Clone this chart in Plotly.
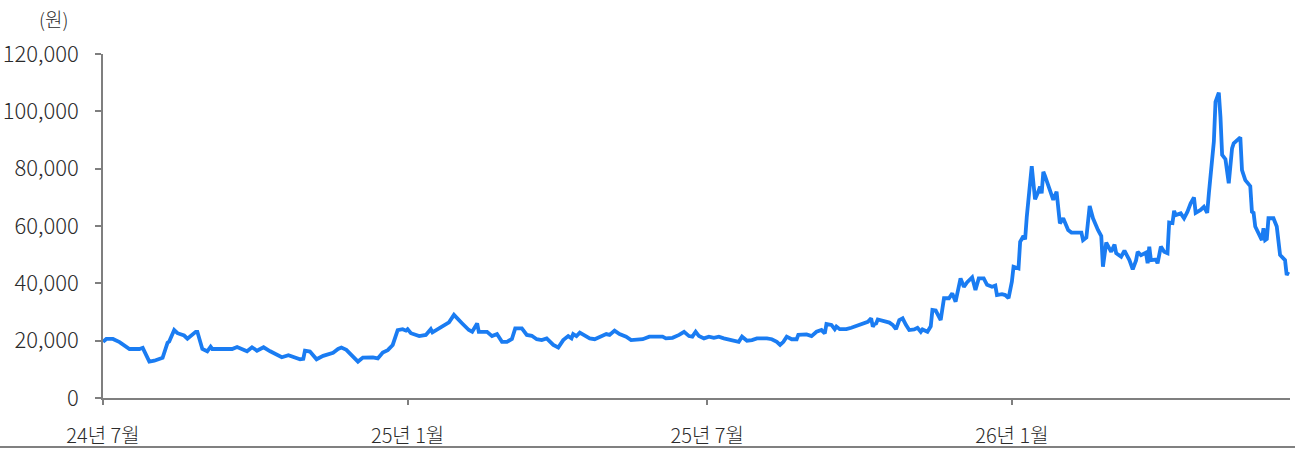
import plotly.graph_objects as go

dates = [
    "2024-07-01","2024-07-03","2024-07-07","2024-07-11","2024-07-17","2024-07-23","2024-07-25","2024-07-29",
    "2024-08-01","2024-08-06","2024-08-09","2024-08-10","2024-08-13","2024-08-15","2024-08-19","2024-08-21",
    "2024-08-26","2024-08-27","2024-08-30","2024-09-02","2024-09-04","2024-09-05","2024-09-17","2024-09-20",
    "2024-09-26","2024-09-29","2024-10-02","2024-10-06","2024-10-10","2024-10-13","2024-10-17","2024-10-21",
    "2024-10-24","2024-10-28","2024-10-30","2024-10-31","2024-11-03","2024-11-05","2024-11-07","2024-11-11",
    "2024-11-14","2024-11-17","2024-11-20","2024-11-22","2024-11-25","2024-11-28","2024-12-02","2024-12-05",
    "2024-12-11","2024-12-14","2024-12-17","2024-12-20","2024-12-23","2024-12-26","2024-12-29","2024-12-31",
    "2025-01-01","2025-01-03","2025-01-08","2025-01-12","2025-01-15","2025-01-16","2025-01-20","2025-01-26",
    "2025-01-29","2025-01-31","2025-02-03","2025-02-07","2025-02-09","2025-02-12","2025-02-13","2025-02-18",
    "2025-02-21","2025-02-24","2025-02-27","2025-03-02","2025-03-05","2025-03-07","2025-03-11","2025-03-14",
    "2025-03-17","2025-03-20","2025-03-23","2025-03-26","2025-03-28","2025-03-30","2025-04-02","2025-04-05",
    "2025-04-08","2025-04-10","2025-04-11","2025-04-13","2025-04-15","2025-04-18","2025-04-21","2025-04-24",
    "2025-04-28","2025-05-01","2025-05-03","2025-05-06","2025-05-09","2025-05-13","2025-05-16","2025-05-19",
    "2025-05-23","2025-05-27","2025-06-04","2025-06-06","2025-06-10","2025-06-14","2025-06-17","2025-06-20",
    "2025-06-22","2025-06-24","2025-06-26","2025-06-29","2025-07-02","2025-07-05","2025-07-08","2025-07-11",
    "2025-07-14","2025-07-16","2025-07-20","2025-07-22","2025-07-25","2025-07-28","2025-07-31","2025-08-06",
    "2025-08-09","2025-08-12","2025-08-14","2025-08-16","2025-08-18","2025-08-21","2025-08-24","2025-08-25",
    "2025-08-30","2025-09-02","2025-09-05","2025-09-08","2025-09-10","2025-09-11","2025-09-14","2025-09-16",
    "2025-09-17","2025-09-19","2025-09-23","2025-09-26","2025-10-01","2025-10-06","2025-10-08","2025-10-09",
    "2025-10-10","2025-10-11","2025-10-12","2025-10-16","2025-10-19","2025-10-21","2025-10-23","2025-10-25",
    "2025-10-27","2025-10-29","2025-10-31","2025-11-03","2025-11-05","2025-11-07","2025-11-08","2025-11-11",
    "2025-11-13","2025-11-14","2025-11-16","2025-11-19","2025-11-21","2025-11-24","2025-11-26","2025-11-28",
    "2025-12-01","2025-12-03","2025-12-05","2025-12-08","2025-12-10","2025-12-12","2025-12-15","2025-12-17",
    "2025-12-20","2025-12-22","2025-12-23","2025-12-26","2025-12-28","2025-12-30","2026-01-01","2026-01-02",
    "2026-01-05","2026-01-06","2026-01-08","2026-01-09","2026-01-10","2026-01-13","2026-01-15","2026-01-17",
    "2026-01-18","2026-01-19","2026-01-20","2026-01-21","2026-01-23","2026-01-26","2026-01-28","2026-01-30",
    "2026-02-01","2026-02-04","2026-02-06","2026-02-12","2026-02-13","2026-02-15","2026-02-17","2026-02-19",
    "2026-02-22","2026-02-24","2026-02-25","2026-02-27","2026-03-02","2026-03-04","2026-03-05","2026-03-08",
    "2026-03-10","2026-03-13","2026-03-15","2026-03-17","2026-03-18","2026-03-20","2026-03-23","2026-03-24",
    "2026-03-25","2026-03-26","2026-03-29","2026-03-30","2026-04-01","2026-04-03","2026-04-05","2026-04-06",
    "2026-04-08","2026-04-09","2026-04-10","2026-04-13","2026-04-15","2026-04-17","2026-04-19","2026-04-21",
    "2026-04-22","2026-04-25","2026-04-27","2026-04-29","2026-04-30","2026-05-02","2026-05-03","2026-05-04",
    "2026-05-06","2026-05-07","2026-05-08","2026-05-10","2026-05-11","2026-05-12","2026-05-14","2026-05-15",
    "2026-05-19","2026-05-20","2026-05-22","2026-05-25","2026-05-26","2026-05-27","2026-05-28","2026-05-30",
    "2026-06-01","2026-06-02","2026-06-03","2026-06-04","2026-06-05","2026-06-08","2026-06-10","2026-06-12",
    "2026-06-15","2026-06-16","2026-06-17",
]

prices = [
    19600,20600,20600,19500,17100,17100,17500,12700,
    13000,14000,19300,19700,23700,22600,21800,20700,
    23100,23100,17100,16300,17900,17100,17100,17800,
    16300,17700,16500,17700,16300,15500,14200,14900,
    14200,13500,13700,16500,16200,14900,13500,14700,
    15200,15800,17100,17600,16800,14900,12700,14100,
    14200,13800,15900,16700,18500,23700,24000,23500,
    24000,22600,21600,22000,24000,22900,24300,26400,
    29000,27600,26000,23700,23100,26000,23100,23100,
    21600,22300,19600,19600,20600,24300,24300,22000,
    21700,20500,20200,20800,19600,18500,17600,20200,
    21600,20800,22300,21600,22800,21900,20800,20500,
    21400,22300,22000,23500,22300,21400,20200,20200,
    20500,21400,21400,20800,21000,22000,23100,21600,
    21400,23100,21600,20800,21400,21000,21400,20800,
    20500,20200,19600,21400,20000,20200,20800,20800,
    20500,19600,18500,19600,21400,20500,20500,22000,
    22200,21600,23100,23700,22500,25800,25500,24000,
    24900,24000,24000,24500,25500,26600,27800,24900,
    25800,26000,27400,26600,26300,25500,24000,27200,
    27800,25500,23700,23900,24500,23100,23900,23100,
    25000,30700,30500,27200,34800,34800,36500,33600,
    41700,38800,40400,42100,37700,41700,41700,39500,
    38800,39200,35900,36200,35900,34800,40600,45800,
    45200,54500,56500,55300,63200,80900,69300,72000,
    73700,71400,78900,77500,73700,69100,72000,60900,
    62700,58600,57700,57700,55100,56000,67000,62700,
    58600,56500,45800,54200,51000,53500,50500,49300,
    51400,48100,44900,48000,51000,49800,50700,47000,
    52800,48100,48300,47000,52800,51000,50500,61200,
    61000,65300,63800,64400,62700,64900,67900,70000,
    64600,65600,66700,64600,71400,81900,89400,103300,
    106500,98000,84800,83300,77800,74900,87100,88800,
    90900,79500,76000,73900,65000,64600,59800,57400,
    55100,59200,55100,55500,62700,62700,59800,49900,
    48100,42900,44000,
]

x_tick_vals = ["2024-07-01", "2025-01-01", "2025-07-01", "2026-01-01"]
x_tick_text = ["24년 7월", "25년 1월", "25년 7월", "26년 1월"]
y_tick_vals = [0, 20000, 40000, 60000, 80000, 100000, 120000]
unit_label = "(원)"

FONT = "Noto Sans CJK KR, Noto Sans, sans-serif"
AXIS_COLOR = "#7f7f7f"
TEXT_COLOR = "#2b2b2b"

fig = go.Figure()
fig.add_trace(go.Scatter(
    x=dates, y=prices, mode="lines",
    line=dict(color="#1a7cf2", width=3.8),
    hoverinfo="x+y", showlegend=False,
))

fig.update_layout(
    width=1295, height=449,
    margin=dict(l=103, r=5, t=54, b=51),
    paper_bgcolor="white", plot_bgcolor="white",
    font=dict(family=FONT, size=20, color=TEXT_COLOR, weight=300),
    showlegend=False,
)

fig.update_xaxes(
    type="date",
    range=["2024-07-01", "2026-06-18"],
    tickvals=x_tick_vals, ticktext=x_tick_text,
    ticks="outside", ticklen=5, tickcolor=AXIS_COLOR, tickwidth=1.5,
    showline=True, linecolor=AXIS_COLOR, linewidth=1.5,
    showgrid=False, zeroline=False, automargin=False,
    tickfont=dict(family=FONT, size=20, color=TEXT_COLOR, weight=300),
    ticklabelstandoff=14,
)

fig.update_yaxes(
    range=[0, 120000],
    tickvals=y_tick_vals, tickformat=",d",
    ticks="outside", ticklen=6, tickcolor=AXIS_COLOR, tickwidth=1.5,
    showline=True, linecolor=AXIS_COLOR, linewidth=1.5,
    showgrid=False, zeroline=False, automargin=False,
    tickfont=dict(family=FONT, size=22, color=TEXT_COLOR, weight=300),
    ticklabelstandoff=12,
)

fig.add_annotation(
    text=unit_label, xref="paper", yref="paper",
    x=-50 / 1187, y=1 + 36 / 344, xanchor="center", yanchor="middle",
    showarrow=False, font=dict(family=FONT, size=19, color=TEXT_COLOR, weight=300),
)

fig.add_shape(
    type="line", xref="paper", yref="paper",
    x0=-103 / 1187, x1=(1295 - 103) / 1187,
    y0=-(447 - 398) / 344, y1=-(447 - 398) / 344,
    line=dict(color="#808080", width=2),
)

fig.write_html("out.html")
